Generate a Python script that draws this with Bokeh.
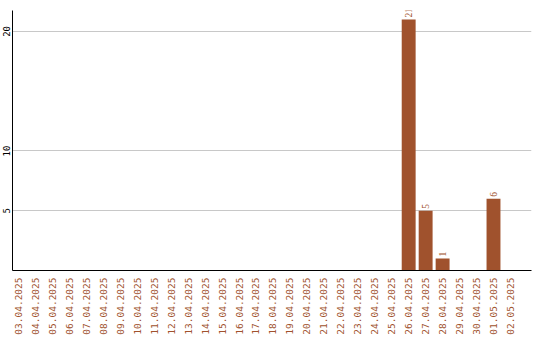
import math
from bokeh.plotting import figure
from bokeh.models import ColumnDataSource, Range1d, FixedTicker, LabelSet
from bokeh.embed import file_html
from bokeh.resources import INLINE

# Daily counts, 03.04.2025 – 02.05.2025
dates = [
    "03.04.2025", "04.04.2025", "05.04.2025", "06.04.2025", "07.04.2025",
    "08.04.2025", "09.04.2025", "10.04.2025", "11.04.2025", "12.04.2025",
    "13.04.2025", "14.04.2025", "15.04.2025", "16.04.2025", "17.04.2025",
    "18.04.2025", "19.04.2025", "20.04.2025", "21.04.2025", "22.04.2025",
    "23.04.2025", "24.04.2025", "25.04.2025", "26.04.2025", "27.04.2025",
    "28.04.2025", "29.04.2025", "30.04.2025", "01.05.2025", "02.05.2025",
]
counts = [0] * 23 + [21, 5, 1, 0, 0, 6, 0]
y_ticks = [5, 10, 20]

BAR = "#A0522D"
FONT = "DejaVu Sans Mono"

idx = list(range(len(dates)))
src = ColumnDataSource(dict(x=idx, top=counts))
nz = [i for i in idx if counts[i] > 0]
lbl = ColumnDataSource(dict(x=nz, y=[counts[i] for i in nz],
                            t=[str(counts[i]) for i in nz]))

p = figure(width=540, height=340, output_backend="svg", toolbar_location=None,
           x_range=Range1d(-0.353, 30.24), y_range=Range1d(0, 21.75),
           min_border_left=11, min_border_top=10, min_border_right=9,
           min_border_bottom=70)
p.outline_line_color = None
p.background_fill_color = "white"
p.border_fill_color = "white"

p.vbar(x="x", top="top", width=0.82, source=src, fill_color=BAR, line_color=None)

# value labels above the bars (annotation, so not clipped by the frame)
p.add_layout(LabelSet(x="x", y="y", text="t", source=lbl, angle=math.pi / 2,
                      text_align="left", text_baseline="middle", y_offset=2,
                      text_color=BAR, text_font=FONT, text_font_size="9.5px"))

p.xgrid.visible = False
p.ygrid.ticker = FixedTicker(ticks=y_ticks)
p.ygrid.grid_line_color = "#c8c8c8"
p.ygrid.grid_line_width = 1

xa = p.xaxis[0]
xa.ticker = FixedTicker(ticks=idx)
xa.major_label_overrides = {i: d for i, d in enumerate(dates)}
xa.major_label_orientation = math.pi / 2
xa.major_tick_out = 0
xa.major_tick_in = 0
xa.minor_tick_out = 0
xa.minor_tick_in = 0
xa.major_label_standoff = 7
xa.major_label_text_color = BAR
xa.major_label_text_font = FONT
xa.major_label_text_font_size = "9.5px"
xa.axis_line_color = "black"

ya = p.yaxis[0]
ya.ticker = FixedTicker(ticks=y_ticks)
ya.major_label_orientation = "vertical"
ya.major_tick_out = 0
ya.major_tick_in = 0
ya.minor_tick_out = 0
ya.minor_tick_in = 0
ya.major_label_standoff = 2
ya.major_label_text_color = "black"
ya.major_label_text_font = FONT
ya.major_label_text_font_size = "9px"
ya.axis_line_color = "black"

open("out.html", "w").write(file_html(p, INLINE))
